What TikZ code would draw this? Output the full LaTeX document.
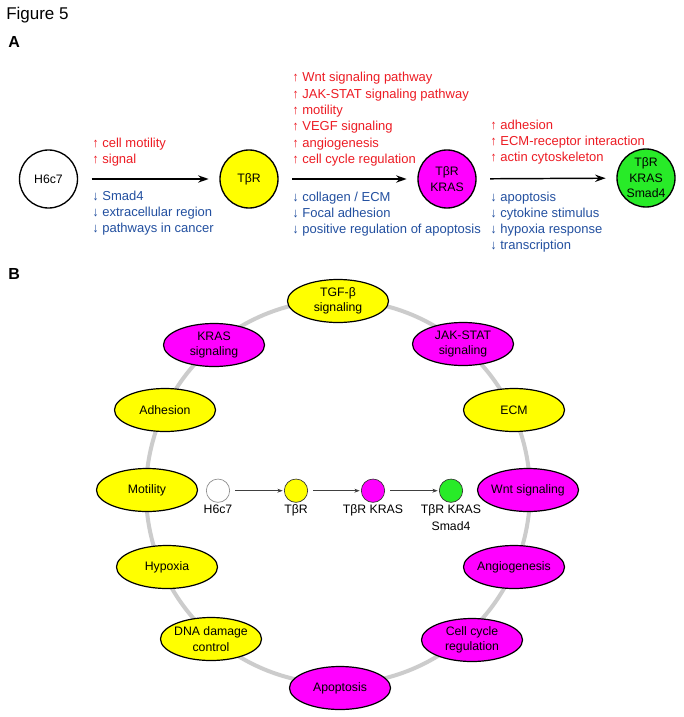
\documentclass[tikz,border=0pt]{standalone}
\usepackage{fontspec}
\setmainfont{Liberation Sans}
\usetikzlibrary{arrows.meta}
\usetikzlibrary{shapes.geometric}
\usetikzlibrary{positioning}

\definecolor{upred}{RGB}{237,28,36}
\definecolor{downblue}{RGB}{35,80,160}
\definecolor{ringgray}{RGB}{204,204,204}
\definecolor{tbryellow}{RGB}{255,255,0}
\definecolor{krasmagenta}{RGB}{255,0,255}
\definecolor{smadgreen}{RGB}{40,235,40}

\tikzset{
  stage/.style={circle,draw=black,line width=1pt,minimum size=43.5pt,inner sep=-3pt,
    align=center,font=\fontsize{9.2}{11.6}\selectfont},
  uptext/.style={anchor=base west,inner sep=0pt,text=upred,font=\fontsize{9.75}{12}\selectfont},
  downtext/.style={anchor=base west,inner sep=0pt,text=downblue,font=\fontsize{9.75}{12}\selectfont},
  term/.style={ellipse,draw=black,line width=0.9pt,minimum width=75.75pt,minimum height=32.25pt,
    inner xsep=-12pt,inner ysep=0pt,align=center,font=\fontsize{9.2}{11.5}\selectfont},
  chaindot/.style={circle,draw=black!80,line width=0.5pt,minimum size=17.5pt,inner sep=0pt},
  chainlabel/.style={below=1.5pt of #1,inner sep=0pt,align=center,font=\fontsize{9.2}{12.5}\selectfont},
  flow/.style={-{Stealth[length=8pt,width=5.5pt]},line width=1.1pt,shorten <=10pt,shorten >=8pt},
  smallflow/.style={-{Stealth[length=4pt,width=3pt]},draw=black!75,line width=0.5pt,
    shorten <=4pt,shorten >=1pt},
}

\begin{document}
\begin{tikzpicture}[x=0.75pt,y=-0.75pt]
    \fill[white] (0,0) rectangle (683,717);
    \useasboundingbox (0,0) rectangle (683,717);
    %titles
    \node[anchor=base west,inner sep=0pt,font=\fontsize{12.75}{15}\selectfont] (fig) at (6,20) {Figure 5};
    \node[anchor=base west,inner sep=0pt,font=\fontsize{12}{14}\selectfont\bfseries] (panelA) at (8,48) {A};
    \node[anchor=base west,inner sep=0pt,font=\fontsize{12}{14}\selectfont\bfseries] (panelB) at (8,279) {B};

    %panel A: stages
    \node[stage] (h6c7) at (48.5,179) {H6c7};
    \node[stage,fill=tbryellow] (tbr) at (249,179) {TβR};
    \node[stage,fill=krasmagenta] (kras) at (447,179) {TβR\\KRAS};
    \node[stage,fill=smadgreen] (smad4) at (646,178) {TβR\\KRAS\\Smad4};
    \draw[flow] (h6c7) -- (tbr);
    \draw[flow] (tbr) -- (kras);
    \draw[flow] (kras) -- (smad4);

    %panel A: up and down
    \foreach \txt [count=\i] in {↑ cell motility,↑ signal}
        \node[uptext] (upA-\i) at (92,{131.4+16*\i}) {\txt};
    \foreach \txt [count=\i] in {↓ Smad4,↓ extracellular region,↓ pathways in cancer}
        \node[downtext] (downA-\i) at (92,{184.7+16*\i}) {\txt};
    \foreach \txt [count=\i] in {↑ Wnt signaling pathway,↑ JAK-STAT signaling pathway,↑ motility,
            ↑ VEGF signaling,↑ angiogenesis,↑ cell cycle regulation}
        \node[uptext] (upB-\i) at (292,{65.7+16.28*\i}) {\txt};
    \foreach \txt [count=\i] in {↓ collagen / ECM,↓ Focal adhesion,↓ positive regulation of apoptosis}
        \node[downtext] (downB-\i) at (292,{185.2+16.2*\i}) {\txt};
    \foreach \txt [count=\i] in {↑ adhesion,↑ ECM-receptor interaction,↑ actin cytoskeleton}
        \node[uptext] (upC-\i) at (490,{113.7+16*\i}) {\txt};
    \foreach \txt [count=\i] in {↓ apoptosis,↓ cytokine stimulus,↓ hypoxia response,↓ transcription}
        \node[downtext] (downC-\i) at (490,{185.7+16*\i}) {\txt};

    %panel B: ring
    \draw[ringgray,line width=3pt] (338,492) circle[radius=192];
    \foreach \name/\x/\y/\col/\txt in {
            tgf/338/301/tbryellow/{TGF-β\\signaling},
            jakstat/463/344/krasmagenta/{JAK-STAT\\signaling},
            ecm/514/410/tbryellow/{ECM},
            wnt/528/490/krasmagenta/{Wnt signaling},
            angio/514/567/krasmagenta/{Angiogenesis},
            cellcycle/472/640/krasmagenta/{Cell cycle\\regulation},
            apopt/340/688/krasmagenta/{Apoptosis},
            dna/211/639/tbryellow/{DNA damage\\control},
            hypoxia/167/567/tbryellow/{Hypoxia},
            motility/147/490/tbryellow/{Motility},
            adhesion/165/410/tbryellow/{Adhesion},
            krassig/214/345/krasmagenta/{KRAS\\signaling}}
        \node[term,fill=\col] (\name) at (\x,\y) {\txt};

    %panel B: chain
    \node[chaindot,draw=black!45,fill=white] (c1) at (218,490.7) {};
    \node[chaindot,fill=tbryellow] (c2) at (296,490.7) {};
    \node[chaindot,fill=krasmagenta] (c3) at (373,490.7) {};
    \node[chaindot,fill=smadgreen] (c4) at (451,490.7) {};
    \node[chainlabel=c1] (c1-lab) {H6c7};
    \node[chainlabel=c2] (c2-lab) {TβR};
    \node[chainlabel=c3] (c3-lab) {TβR KRAS};
    \node[chainlabel=c4] (c4-lab) {TβR KRAS\\Smad4};
    \draw[smallflow] (c1) -- (c2);
    \draw[smallflow] (c2) -- (c3);
    \draw[smallflow] (c3) -- (c4);
\end{tikzpicture}
\end{document}
